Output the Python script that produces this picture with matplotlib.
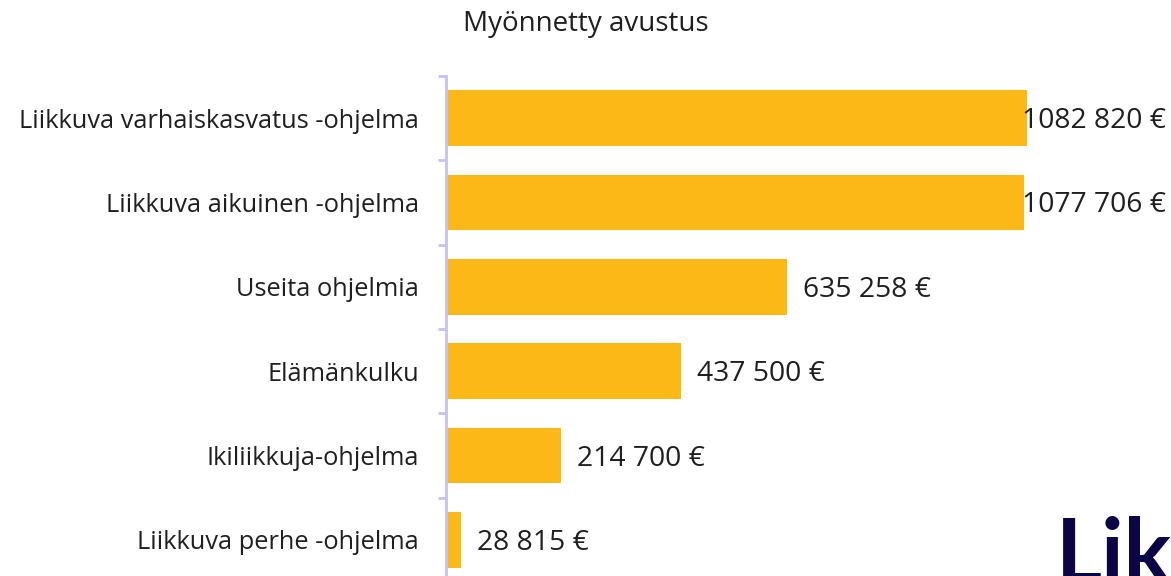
import matplotlib
matplotlib.use("Agg")
import matplotlib.pyplot as plt
import matplotlib.transforms as mtrans
import numpy as np

categories = [
    "Liikkuva varhaiskasvatus -ohjelma",
    "Liikkuva aikuinen -ohjelma",
    "Useita ohjelmia",
    "Elämänkulku",
    "Ikiliikkuja-ohjelma",
    "Liikkuva perhe -ohjelma",
]
values = [1082820, 1077706, 635258, 437500, 214700, 28815]
title = "Myönnetty avustus"

def fmt(v):
    if v >= 1000:
        return f"{v // 1000} {v % 1000:03d} €"
    return f"{v} €"

plt.rcParams['font.family'] = ['Open Sans', 'DejaVu Sans']
W, H = 1171, 576
fig = plt.figure(figsize=(W / 100, H / 100), dpi=100)
ax_left = 446 / W
ax_bottom = 1 - 582 / H
ax_top = 1 - 76 / H
ax = fig.add_axes([ax_left, ax_bottom, 1 - ax_left, ax_top - ax_bottom])

bar_color = "#FBB817"
axis_color = "#C9C0F5"
text_color = "#1f1f1f"

y = np.arange(len(categories))
ax.barh(y, values, height=0.66, color=bar_color, zorder=2)
ax.set_ylim(len(categories) - 0.5, -0.5)
ax.set_xlim(0, (W - 446) / 0.0005366)

for s in ["top", "right", "bottom"]:
    ax.spines[s].set_visible(False)
ax.spines["left"].set_color(axis_color)
ax.spines["left"].set_linewidth(2)
ax.xaxis.set_visible(False)
ax.set_yticks(y)
ax.set_yticklabels(categories, fontsize=18.3, color=text_color)
ax.tick_params(axis="y", which="major", length=0, pad=27 * 72 / 100)
ax.set_yticks(np.arange(len(categories) + 1) - 0.5, minor=True)
ax.tick_params(axis="y", which="minor", length=8 * 72 / 100, width=2, color=axis_color)

fig.canvas.draw()
renderer = fig.canvas.get_renderer()
limit = 1166
dy = -3 / 100
for yi, v in zip(y, values):
    t = ax.text(v, yi, fmt(v), fontsize=20.3, color=text_color, va="center", ha="left",
                zorder=3)
    t.set_transform(ax.transData + mtrans.ScaledTranslation(16 / 100, dy, fig.dpi_scale_trans))
    ext = t.get_window_extent(renderer)
    if ext.x1 > limit:
        shift = (limit - ext.x1) / 100
        t.set_transform(ax.transData + mtrans.ScaledTranslation(16 / 100 + shift, dy, fig.dpi_scale_trans))

fig.text(586 / W, 1 - 24 / H, title, fontsize=20, color=text_color, ha="center", va="center")
fig.text(1056 / W, 1 - 583 / H, "Lik", fontsize=64, fontweight="bold", color="#0B0548",
         ha="left", va="baseline", family=["Lato", "DejaVu Sans"])

fig.savefig("out.png", dpi=100)
